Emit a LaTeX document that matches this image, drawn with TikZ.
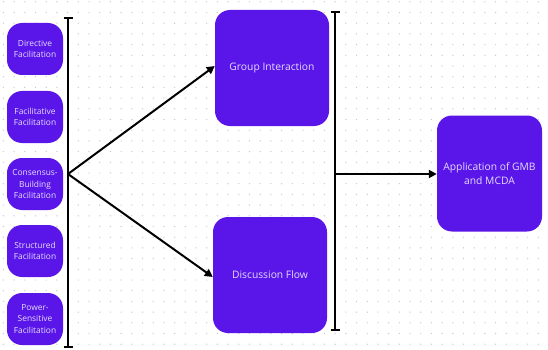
\documentclass[tikz,border=0pt]{standalone}
\usepackage{fontspec}
\setmainfont{Open Sans}
\usetikzlibrary{arrows.meta}
\definecolor{boxfill}{HTML}{5A16E8}
\definecolor{boxtext}{HTML}{E6DCFF}
\definecolor{dotgrey}{HTML}{C9C9D6}
\tikzset{
  smallbox/.style={draw=none, fill=boxfill, rounded corners=15pt, minimum width=56pt,
    minimum height=52pt, align=center, text=boxtext, font=\fontsize{8.4}{11.5}\selectfont, inner sep=1pt},
  bigbox/.style={draw=none, fill=boxfill, rounded corners=15pt, minimum width=114pt,
    minimum height=116pt, align=center, text=boxtext, font=\fontsize{10.3}{14}\selectfont, inner sep=1pt},
  bar/.style={line width=2.2pt, black},
  flow/.style={line width=2pt, black, -{Triangle[length=8pt,width=8pt]}},
}
\begin{document}
\begin{tikzpicture}[x=1pt, y=-1pt]
  \useasboundingbox (0,0) rectangle (548,350);
  \fill[white] (0,0) rectangle (548,350);
  % dotted background grid
  \foreach \i in {0,...,51} {
    \foreach \j in {0,...,32} {
      \fill[dotgrey] (3.4+\i*10.7, 1.8+\j*10.7) circle (0.7pt);
    }
  }
  % facilitation styles
  \node[smallbox] (dir) at (35,49)  {Directive\\Facilitation};
  \node[smallbox] (fac) at (35,117) {Facilitative\\Facilitation};
  \node[smallbox] (con) at (35,184) {Consensus-\\Building\\Facilitation};
  \node[smallbox] (str) at (35,251) {Structured\\Facilitation};
  \node[smallbox] (pow) at (35,319) {Power-\\Sensitive\\Facilitation};
  % outcomes
  \node[bigbox] (gi) at (272,68)  {Group Interaction};
  \node[bigbox] (df) at (270,275) {Discussion Flow};
  \node[bigbox, minimum width=105pt] (app) at (489.5,173.5) {Application of GMB\\and MCDA};
  % left bracket bar
  \coordinate (ltop) at (68,18);
  \coordinate (lbot) at (68,347);
  \coordinate (hub) at (68,174);
  \draw[bar] (ltop) -- (lbot);
  \draw[bar] ([xshift=-4.5pt]ltop) -- ([xshift=4.5pt]ltop);
  \draw[bar] ([xshift=-4.5pt]lbot) -- ([xshift=4.5pt]lbot);
  % right bracket bar
  \coordinate (rtop) at (335,12);
  \coordinate (rbot) at (335,330);
  \coordinate (rhub) at (335,174);
  \draw[bar] (rtop) -- (rbot);
  \draw[bar] ([xshift=-4.5pt]rtop) -- ([xshift=4.5pt]rtop);
  \draw[bar] ([xshift=-4.5pt]rbot) -- ([xshift=4.5pt]rbot);
  % connectors
  \draw[flow] (hub) -- ([yshift=2pt]gi.west);
  \draw[flow] (hub) -- ([yshift=-2pt]df.west);
  \draw[flow] (rhub) -- (app.west |- rhub);
\end{tikzpicture}
\end{document}
